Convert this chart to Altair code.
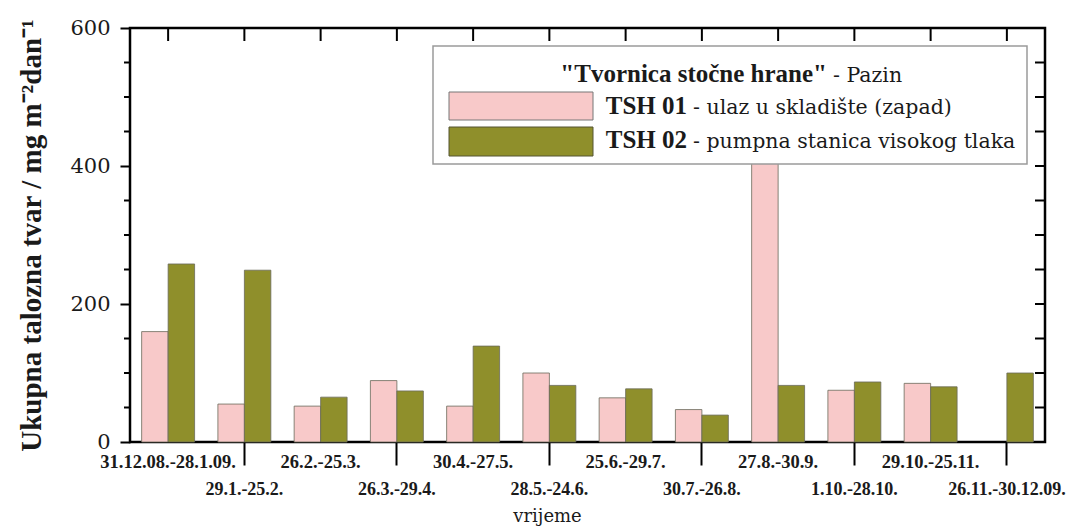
import altair as alt
import pandas as pd

categories = ["31.12.08.-28.1.09.", "29.1.-25.2.", "26.2.-25.3.", "26.3.-29.4.",
              "30.4.-27.5.", "28.5.-24.6.", "25.6.-29.7.", "30.7.-26.8.",
              "27.8.-30.9.", "1.10.-28.10.", "29.10.-25.11.", "26.11.-30.12.09."]
series = ["TSH 01", "TSH 02"]
tsh01 = [160, 55, 52, 89, 52, 100, 64, 47, 450, 75, 85, None]
tsh02 = [258, 249, 65, 74, 139, 82, 77, 39, 82, 87, 80, 100]
colors = ["#F8C9C9", "#8F8F2B"]
y_major = [0, 200, 400, 600]
y_minor = [50, 100, 150, 250, 300, 350, 450, 500, 550]
y_all = [0, 50, 100, 150, 200, 250, 300, 350, 400, 450, 500, 550, 600]
legend_title = ['"Tvornica stočne hrane"', "- Pazin"]
legend_bold = ["TSH 01", "TSH 02"]
legend_text = ["- ulaz u skladište (zapad)", "- pumpna stanica visokog tlaka"]

FONT_B = "Liberation Serif"
FONT_R = "DejaVu Serif"
W, H = 915, 414

rows = []
for i, c in enumerate(categories):
    for s, vals in zip(series, [tsh01, tsh02]):
        if vals[i] is not None:
            rows.append({"cat": c, "series": s, "value": vals[i]})
bars_df = pd.DataFrame(rows)
cat_df = pd.DataFrame({"cat": categories, "idx": list(range(len(categories)))})

xscale = alt.Scale(domain=categories, paddingInner=0, paddingOuter=0)
yscale = alt.Scale(domain=[0, 600], nice=False)

x_axis = alt.Axis(values=categories[1::2], labels=False, ticks=True,
                  tickSize=23, tickWidth=2, tickColor="black",
                  domain=False, grid=False, title="vrijeme",
                  titleFont=FONT_R, titleFontSize=18, titleFontWeight="normal",
                  titleColor="#1a1a1a", titleX=417, titleY=79,
                  titleBaseline="alphabetic", titleAlign="center")
y_axis = alt.Axis(values=y_major, tickSize=10, tickWidth=2, tickColor="black",
                  domain=False, grid=False, labelFont=FONT_R, labelFontSize=21,
                  labelColor="#1a1a1a", labelPadding=10,
                  title="Ukupna talozna tvar / mg m⁻²dan⁻¹",
                  titleFont=FONT_B, titleFontSize=29, titleFontWeight="bold",
                  titleColor="#1a1a1a", titleAngle=270, titleX=-90, titleY=207,
                  titleAlign="center", titleBaseline="alphabetic")

X = alt.X("cat:N", scale=xscale, sort=categories, axis=x_axis)
Y = alt.Y("value:Q", scale=yscale, axis=y_axis)

bars = alt.Chart(bars_df).mark_bar(stroke="#6a6a5a", strokeWidth=0.8).encode(
    x=X,
    xOffset=alt.XOffset("series:N", sort=series,
                        scale=alt.Scale(domain=series, paddingInner=0, paddingOuter=0.44)),
    y=Y,
    color=alt.Color("series:N", scale=alt.Scale(domain=series, range=colors), legend=None),
)

minor_df = pd.DataFrame({"value": y_minor})
left_minor = alt.Chart(minor_df).mark_rule(color="black", strokeWidth=2).encode(
    y=Y, x=alt.value(-6), x2=alt.value(0))

right_df = pd.DataFrame({"value": y_all})
right_ticks = alt.Chart(right_df).mark_rule(color="black", strokeWidth=2).encode(
    y=Y, x=alt.value(W - 10), x2=alt.value(W))

top_ticks = alt.Chart(cat_df).mark_rule(color="black", strokeWidth=2).encode(
    x=X, y=alt.value(0), y2=alt.value(13))

lab_top = alt.Chart(cat_df).transform_filter("datum.idx % 2 == 0").mark_text(
    font=FONT_B, fontSize=18.5, fontWeight="bold", baseline="alphabetic", color="#1a1a1a"
).encode(x=X, y=alt.value(440), text="cat:N")

lab_bot = alt.Chart(cat_df).transform_filter("datum.idx % 2 == 1").mark_text(
    font=FONT_B, fontSize=18, fontWeight="bold", baseline="alphabetic", color="#1a1a1a"
).encode(x=X, y=alt.value(467), text="cat:N")

one = pd.DataFrame({"a": [0]})
leg_box = alt.Chart(one).mark_rect(fill="white", stroke="#9a9a9a", strokeWidth=1.5).encode(
    x=alt.value(303), x2=alt.value(897), y=alt.value(18), y2=alt.value(136))

sw_df = pd.DataFrame({"series": series, "k": [0, 1]})
sw1 = alt.Chart(sw_df).transform_filter("datum.k == 0").mark_rect(stroke="#777777", strokeWidth=1).encode(
    x=alt.value(319), x2=alt.value(463), y=alt.value(64), y2=alt.value(92),
    color=alt.Color("series:N", scale=alt.Scale(domain=series, range=colors), legend=None))
sw2 = alt.Chart(sw_df).transform_filter("datum.k == 1").mark_rect(stroke="#555533", strokeWidth=1).encode(
    x=alt.value(319), x2=alt.value(463), y=alt.value(99), y2=alt.value(128),
    color=alt.Color("series:N", scale=alt.Scale(domain=series, range=colors), legend=None))


def txt(s, x, y, bold, align, size):
    return alt.Chart(one).mark_text(
        font=FONT_B if bold else FONT_R, fontSize=size,
        fontWeight="bold" if bold else "normal",
        align=align, baseline="alphabetic", color="#1a1a1a", text=s
    ).encode(x=alt.value(x), y=alt.value(y))


legend_layers = [
    txt(legend_title[0], 697, 54, True, "right", 25),
    txt(legend_title[1], 703, 54, False, "left", 20.5),
    txt(legend_bold[0], 557, 86, True, "right", 25),
    txt(legend_text[0], 563, 86, False, "left", 20.5),
    txt(legend_bold[1], 557, 120, True, "right", 25),
    txt(legend_text[1], 563, 120, False, "left", 20.5),
]

chart = alt.layer(
    bars, left_minor, right_ticks, top_ticks, lab_top, lab_bot,
    leg_box, sw1, sw2, *legend_layers
).properties(
    width=W, height=H,
    autosize=alt.AutoSizeParams(type="none"),
    padding={"left": 130, "top": 28, "right": 21, "bottom": 84},
    background="white",
).configure_view(stroke="black", strokeWidth=2.5, fill="white")

chart.save("out.html", embed_options={"renderer": "svg", "actions": False})
